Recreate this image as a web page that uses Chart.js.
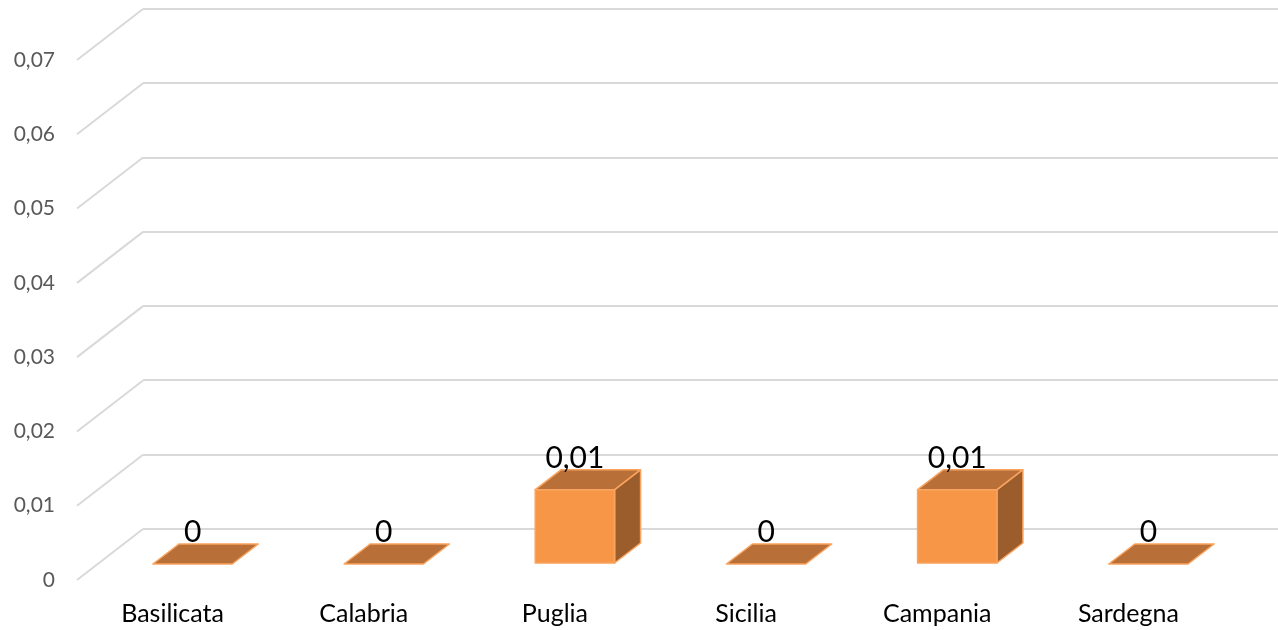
<!DOCTYPE html>
<html>
<head>
<meta charset="utf-8">
<script src="https://cdn.jsdelivr.net/npm/chart.js@4.4.1/dist/chart.umd.min.js"></script>
<style>
  html, body { margin: 0; padding: 0; background: #fff; }
  #wrap { width: 1278px; height: 630px; }
</style>
</head>
<body>
<div id="wrap"><canvas id="chart" width="1278" height="630"></canvas></div>
<script>
// Data
const regions = ["Basilicata", "Calabria", "Puglia", "Sicilia", "Campania", "Sardegna"];
const values = [0, 0, 0.01, 0, 0.01, 0];
const yTicks = [0, 0.01, 0.02, 0.03, 0.04, 0.05, 0.06, 0.07];

// 3D look: floor depth and bar position inside it
const FLOOR = { dx: -66, dy: 51 };
const FRONT = { dx: -46, dy: 35 };
const BACK = { dx: -20, dy: 15 };
// back wall runs a little past the right edge of the picture
const OVERHANG = 12;

const fmt = v => v === 0 ? "0" : v.toFixed(2).replace(".", ",");

// Stretch the category axis past the canvas edge
const stretch = {
  id: "stretch",
  afterLayout(chart) {
    const x = chart.scales.x;
    x.right += OVERHANG;
    x.width += OVERHANG;
    x.configure();
  }
};

// Floor diagonals from back wall to front
const diagonals = {
  id: "diagonals",
  beforeDatasetsDraw(chart) {
    const ctx = chart.ctx;
    const y = chart.scales.y;
    const left = chart.chartArea.left;
    ctx.save();
    ctx.strokeStyle = "#d9d9d9";
    ctx.lineWidth = 2;
    yTicks.forEach(t => {
      const py = y.getPixelForValue(t);
      ctx.beginPath();
      ctx.moveTo(left, py);
      ctx.lineTo(left + FLOOR.dx, py + FLOOR.dy);
      ctx.stroke();
    });
    ctx.restore();
  }
};

// Draw bars as boxes
const boxes = {
  id: "boxes",
  afterDatasetsDraw(chart) {
    const ctx = chart.ctx;
    const meta = chart.getDatasetMeta(0);
    ctx.save();
    ctx.lineWidth = 1.5;
    ctx.strokeStyle = "#f9a35e";
    ctx.lineJoin = "round";
    meta.data.forEach((bar, i) => {
      const w = bar.width / 2;
      const top = bar.y, base = bar.base;
      const fl = bar.x - w + FRONT.dx, fr = bar.x + w + FRONT.dx;
      const bl = bar.x - w + BACK.dx, br = bar.x + w + BACK.dx;

      if (base - top > 0.5) {
        // side face
        ctx.fillStyle = "#9c5d2d";
        ctx.beginPath();
        ctx.moveTo(fr, top + FRONT.dy);
        ctx.lineTo(br, top + BACK.dy);
        ctx.lineTo(br, base + BACK.dy);
        ctx.lineTo(fr, base + FRONT.dy);
        ctx.closePath();
        ctx.fill();
        ctx.stroke();

        // front face
        ctx.fillStyle = "#f79646";
        ctx.beginPath();
        ctx.rect(fl, top + FRONT.dy, fr - fl, base - top);
        ctx.fill();
        ctx.stroke();
      }

      // top face
      ctx.fillStyle = "#b97038";
      ctx.beginPath();
      ctx.moveTo(fl, top + FRONT.dy);
      ctx.lineTo(fr, top + FRONT.dy);
      ctx.lineTo(br, top + BACK.dy);
      ctx.lineTo(bl, top + BACK.dy);
      ctx.closePath();
      ctx.fill();
      ctx.stroke();

      // value label
      ctx.fillStyle = "#000";
      ctx.font = "30px Lato";
      ctx.textAlign = "center";
      ctx.textBaseline = "alphabetic";
      ctx.fillText(fmt(values[i]), (fl + fr) / 2, top + BACK.dy - 2);
    });
    ctx.restore();
  }
};

new Chart(document.getElementById("chart"), {
  type: "bar",
  data: {
    labels: regions,
    datasets: [{
      data: values,
      backgroundColor: "rgba(0,0,0,0)",
      borderWidth: 0,
      barPercentage: 0.415,
      categoryPercentage: 1
    }]
  },
  options: {
    responsive: false,
    animation: false,
    layout: { padding: { top: 9, right: 0, left: 0, bottom: 0 } },
    plugins: {
      legend: { display: false },
      tooltip: { enabled: false }
    },
    scales: {
      x: {
        grid: { display: false },
        border: { display: false },
        ticks: {
          color: "#000",
          font: { family: "Lato", size: 25 },
          padding: 62,
          maxRotation: 0,
          labelOffset: FLOOR.dx
        },
        afterFit(scale) {
          scale.height = 101;
          scale.paddingLeft = 0;
          scale.paddingRight = 0;
        }
      },
      y: {
        min: 0,
        max: 0.07,
        grid: { color: "#d9d9d9", lineWidth: 2, drawTicks: false },
        border: { display: false },
        ticks: {
          stepSize: 0.01,
          color: "#595959",
          font: { family: "Lato", size: 21, lineHeight: 1 },
          padding: 88,
          labelOffset: FLOOR.dy,
          callback: v => fmt(v)
        },
        afterFit(scale) {
          scale.width = 143;
          scale.paddingTop = 0;
          scale.paddingBottom = 0;
        }
      }
    }
  },
  plugins: [stretch, diagonals, boxes]
});
</script>
</body>
</html>
